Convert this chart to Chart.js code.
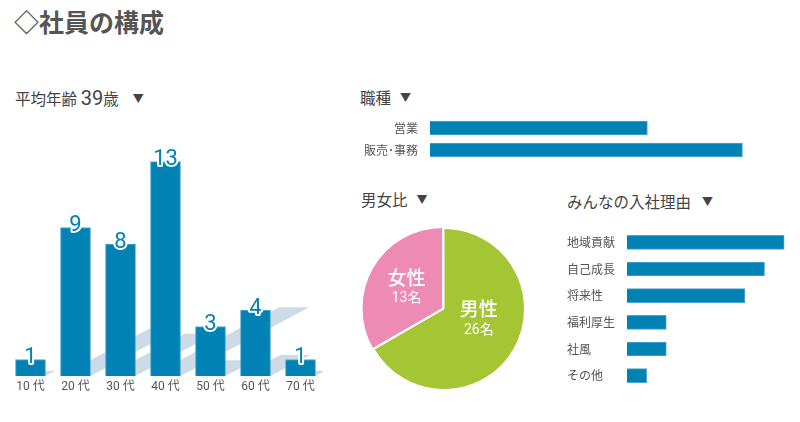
<!DOCTYPE html>
<html lang="ja">
<head>
<meta charset="utf-8">
<script src="https://cdn.jsdelivr.net/npm/chart.js@4"></script>
<style>
  body { margin: 0; width: 800px; height: 422px; background: #fff; position: relative; overflow: hidden;
         font-family: Roboto, "Noto Sans CJK JP", sans-serif; color: #444; }
  h1 { position: absolute; left: 14px; top: 9px; margin: 0; font-size: 25px; line-height: 25px;
       font-weight: bold; color: #555; font-family: "Noto Sans CJK JP", sans-serif; white-space: nowrap; }
  .head { position: absolute; font-size: 15.5px; line-height: 20px; color: #444; white-space: nowrap;
          font-family: Roboto, "Noto Sans CJK JP", sans-serif; }
  .head .big { font-size: 20px; }
  .tri { font-size: 11px; margin-left: 9px; position: relative; top: -2px; }
  .box { position: absolute; }
</style>
</head>
<body>
<h1>◇社員の構成</h1>
<div class="head" style="left:15px; top:88px;">平均年齢 <span class="big">39</span>歳<span class="tri" style="margin-left:14px">▼</span></div>
<div class="head" style="left:360px; top:89px;">職種<span class="tri">▼</span></div>
<div class="head" style="left:361px; top:191px;">男女比<span class="tri">▼</span></div>
<div class="head" style="left:567px; top:193px;">みんなの入社理由<span class="tri" style="margin-left:11px">▼</span></div>

<div class="box" style="left:8px; top:112px; width:315px; height:288px;"><canvas id="ageChart"></canvas></div>
<div class="box" style="left:350px; top:116.5px; width:440px; height:44px;"><canvas id="jobChart"></canvas></div>
<div class="box" style="left:360px; top:225px; width:168px; height:168px;"><canvas id="genderChart"></canvas></div>
<div class="box" style="left:567px; top:228.5px; width:228px; height:160px;"><canvas id="reasonChart"></canvas></div>

<script>
// data
const ageLabels = ['10 代', '20 代', '30 代', '40 代', '50 代', '60 代', '70 代'];
const ageCounts = [1, 9, 8, 13, 3, 4, 1];

const jobLabels = ['営業', '販売･事務'];
const jobCounts = [16, 23];

const genderLabels = ['男性', '女性'];
const genderCounts = [26, 13];

const reasonLabels = ['地域貢献', '自己成長', '将来性', '福利厚生', '社風', 'その他'];
const reasonCounts = [8, 7, 6, 2, 2, 1];

const BLUE = '#0082b4';
const EDGE = '#4fa7cd';

// tick labels should not shrink the plot area
const noPad = s => { s.paddingTop = 0; s.paddingBottom = 0; s.paddingLeft = 0; s.paddingRight = 0; };

// diagonal shadow behind each bar
const barShadow = {
    id: 'barShadow',
    beforeDatasetsDraw(chart) {
        const ctx = chart.ctx;
        ctx.save();
        ctx.fillStyle = '#cddbe7';
        chart.getDatasetMeta(0).data.forEach(bar => {
            const h = bar.base - bar.y;
            const x0 = bar.x - bar.width / 2, x1 = bar.x + bar.width / 2;
            const dx = h * 0.6, dy = h * 0.32;
            ctx.beginPath();
            ctx.moveTo(x0, bar.base);
            ctx.lineTo(x1, bar.base);
            ctx.lineTo(x1 + dx, bar.base - dy);
            ctx.lineTo(x0 + dx, bar.base - dy);
            ctx.closePath();
            ctx.fill();
        });
        ctx.restore();
    }
};

// value on top of each bar
const barValues = {
    id: 'barValues',
    afterDatasetsDraw(chart) {
        const ctx = chart.ctx;
        const data = chart.data.datasets[0].data;
        ctx.save();
        ctx.font = '22px Roboto';
        ctx.textAlign = 'center';
        ctx.textBaseline = 'middle';
        ctx.lineJoin = 'round';
        chart.getDatasetMeta(0).data.forEach((bar, i) => {
            ctx.strokeStyle = '#fff';
            ctx.lineWidth = 4;
            ctx.strokeText(data[i], bar.x, bar.y - 2);
            ctx.fillStyle = BLUE;
            ctx.fillText(data[i], bar.x, bar.y - 2);
        });
        ctx.restore();
    }
};

new Chart(document.getElementById('ageChart'), {
    type: 'bar',
    data: {
        labels: ageLabels,
        datasets: [{
            data: ageCounts,
            backgroundColor: BLUE,
            borderColor: EDGE,
            borderWidth: 1,
            barThickness: 30
        }]
    },
    options: {
        responsive: true,
        maintainAspectRatio: false,
        animation: false,
        layout: { padding: 0 },
        scales: {
            x: {
                grid: { display: false, drawTicks: false },
                border: { display: false },
                ticks: { color: '#555', font: { size: 12, family: 'Roboto, "Noto Sans CJK JP"' }, padding: 4 },
                afterFit: s => { s.height = 24; noPad(s); }
            },
            y: { display: false, min: 0, max: 16 }
        },
        plugins: { legend: { display: false }, tooltip: { enabled: false } }
    },
    plugins: [barShadow, barValues]
});

const hbarOptions = (max, axisWidth, align, padding) => ({
    indexAxis: 'y',
    responsive: true,
    maintainAspectRatio: false,
    animation: false,
    layout: { padding: 0 },
    scales: {
        x: { display: false, min: 0, max: max },
        y: {
            grid: { display: false, drawTicks: false },
            border: { display: false },
            ticks: { color: '#555', crossAlign: align, padding: padding, autoSkip: false,
                     font: { size: 12, family: '"Noto Sans CJK JP", sans-serif' } },
            afterFit: s => { s.width = axisWidth; noPad(s); }
        }
    },
    plugins: { legend: { display: false }, tooltip: { enabled: false } }
});

new Chart(document.getElementById('jobChart'), {
    type: 'bar',
    data: {
        labels: jobLabels,
        datasets: [{ data: jobCounts, backgroundColor: BLUE, borderColor: EDGE, borderWidth: 1, barThickness: 14 }]
    },
    options: hbarOptions(26.5, 80, 'near', 12)
});

new Chart(document.getElementById('reasonChart'), {
    type: 'bar',
    data: {
        labels: reasonLabels,
        datasets: [{ data: reasonCounts, backgroundColor: BLUE, borderColor: EDGE, borderWidth: 1, barThickness: 14 }]
    },
    options: hbarOptions(8.55, 60, 'far', 0)
});

// name + count inside each slice
const sliceLabels = {
    id: 'sliceLabels',
    afterDatasetsDraw(chart) {
        const ctx = chart.ctx;
        const data = chart.data.datasets[0].data;
        ctx.save();
        ctx.fillStyle = '#fff';
        ctx.textAlign = 'center';
        ctx.textBaseline = 'middle';
        chart.getDatasetMeta(0).data.forEach((arc, i) => {
            const p = arc.getCenterPoint();
            // nudge the big slice's label toward the middle of the pie
            const lift = (arc.endAngle - arc.startAngle) > Math.PI ? 10 : 0;
            ctx.font = '500 19px "Noto Sans CJK JP"';
            ctx.fillText(chart.data.labels[i], p.x, p.y - 10 - lift);
            ctx.font = '14px Roboto, "Noto Sans CJK JP"';
            ctx.fillText(data[i] + '名', p.x, p.y + 11 - lift);
        });
        ctx.restore();
    }
};

new Chart(document.getElementById('genderChart'), {
    type: 'pie',
    data: {
        labels: genderLabels,
        datasets: [{
            data: genderCounts,
            backgroundColor: ['#a6c535', '#ee8bb5'],
            borderColor: '#fff',
            borderWidth: 1,
            offset: [0, 6]
        }]
    },
    options: {
        responsive: true,
        maintainAspectRatio: false,
        animation: false,
        layout: { padding: 0 },
        plugins: { legend: { display: false }, tooltip: { enabled: false } }
    },
    plugins: [sliceLabels]
});
</script>
</body>
</html>
